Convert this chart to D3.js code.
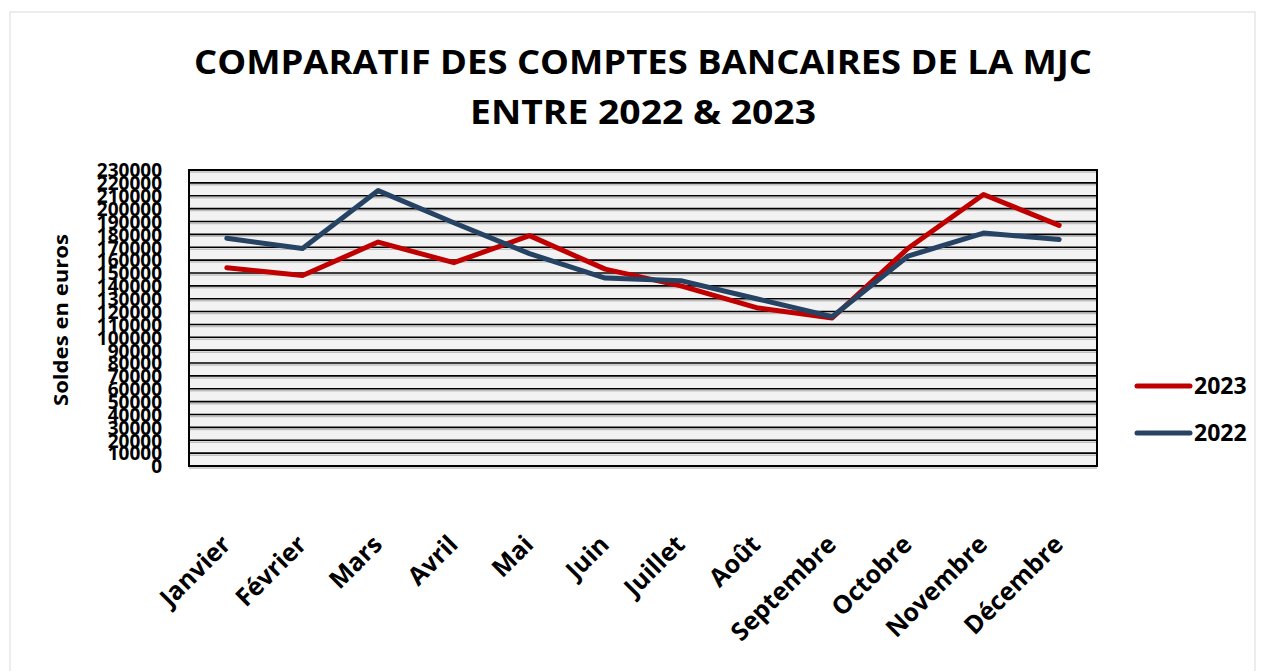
<!DOCTYPE html>
<html>
<head>
<meta charset="utf-8">
<script src="https://cdn.jsdelivr.net/npm/d3@7"></script>
<style>
  body { margin: 0; background: #fff; }
  text { font-family: "Open Sans", "DejaVu Sans", sans-serif; font-weight: bold; fill: #000; }
</style>
</head>
<body>
<svg id="chart" width="1263" height="671"></svg>
<script>
// months on the x axis
const months = ["Janvier", "Février", "Mars", "Avril", "Mai", "Juin", "Juillet", "Août", "Septembre", "Octobre", "Novembre", "Décembre"];
// balances
const soldes2023 = [154000, 148000, 174000, 158000, 179000, 153000, 140000, 123000, 115000, 169000, 211000, 187000];
const soldes2022 = [177000, 169000, 214000, 189000, 165000, 146000, 144000, 130000, 116000, 163000, 181000, 176000];
const yTicks = d3.range(0, 230001, 10000);

const series = [
    { name: "2023", values: soldes2023, color: "#c00000" },
    { name: "2022", values: soldes2022, color: "#264364" }
];

const svg = d3.select("svg#chart");
const margin = { top: 170, right: 166, bottom: 205, left: 189 };
const width = 1263 - margin.left - margin.right;
const height = 671 - margin.top - margin.bottom;

// outer frame
svg.append("rect")
    .attr("x", 10).attr("y", 12)
    .attr("width", 1245).attr("height", 670)
    .attr("fill", "none")
    .attr("stroke", "#d9d9d9");

// title
const title = svg.append("text")
    .attr("text-anchor", "middle")
    .style("font-size", "34px");
title.append("tspan").attr("x", 643).attr("y", 74)
    .attr("textLength", 898).attr("lengthAdjust", "spacingAndGlyphs")
    .text("COMPARATIF DES COMPTES BANCAIRES DE LA MJC");
title.append("tspan").attr("x", 643).attr("y", 124)
    .attr("textLength", 346).attr("lengthAdjust", "spacingAndGlyphs")
    .text("ENTRE 2022 & 2023");

const g = svg.append("g").attr("transform", `translate(${margin.left},${margin.top})`);

const x = d3.scalePoint().domain(months).range([0, width]).padding(0.5);
const y = d3.scaleLinear().domain([0, 230000]).range([height, 0]);

g.append("rect")
    .attr("width", width).attr("height", height)
    .attr("fill", "#f2f2f2");

// gridlines (black with grey shadow)
g.selectAll(".gridShadow")
    .data(yTicks)
    .join("line")
    .attr("class", "gridShadow")
    .attr("x1", 0).attr("x2", width)
    .attr("y1", d => y(d) + 2).attr("y2", d => y(d) + 2)
    .style("stroke", "#bfbfbf")
    .style("stroke-width", 1.5);
g.selectAll(".grid")
    .data(yTicks)
    .join("line")
    .attr("class", "grid")
    .attr("x1", 0).attr("x2", width)
    .attr("y1", d => y(d)).attr("y2", d => y(d))
    .style("stroke", "#000")
    .style("stroke-width", 1.6);

g.append("rect")
    .attr("width", width).attr("height", height)
    .attr("fill", "none")
    .attr("stroke", "#000")
    .attr("stroke-width", 2);

// y axis labels
const yAxis = d3.axisLeft(y).tickValues(yTicks).tickSize(0).tickPadding(27).tickFormat(d3.format("d"));
g.append("g")
    .call(yAxis)
    .call(a => a.select(".domain").remove())
    .selectAll("text")
    .style("font-size", "19px")
    .attr("dy", "0.36em");

svg.append("text")
    .attr("transform", "translate(68,320) rotate(-90)")
    .attr("text-anchor", "middle")
    .attr("textLength", 172).attr("lengthAdjust", "spacingAndGlyphs")
    .style("font-size", "20px")
    .text("Soldes en euros");

// x axis labels
const xAxis = d3.axisBottom(x).tickSize(0).tickPadding(0);
g.append("g")
    .attr("transform", `translate(0,${height})`)
    .call(xAxis)
    .call(a => a.select(".domain").remove())
    .selectAll("text")
    .style("font-size", "25px")
    .attr("text-anchor", "end")
    .attr("dy", 0)
    .attr("transform", "translate(5,80) rotate(-45)");

// lines
const line = d3.line()
    .x((d, i) => x(months[i]))
    .y(d => y(d));

g.selectAll(".serie")
    .data(series)
    .join("path")
    .attr("class", "serie")
    .attr("d", d => line(d.values))
    .attr("fill", "none")
    .attr("stroke", d => d.color)
    .attr("stroke-width", 5)
    .attr("stroke-linejoin", "round")
    .attr("stroke-linecap", "round");

// legend
const legend = svg.selectAll(".legend")
    .data(series)
    .join("g")
    .attr("class", "legend")
    .attr("transform", (d, i) => `translate(1137,${386 + i * 47})`);
legend.append("line")
    .attr("x1", 0).attr("x2", 53)
    .attr("stroke", d => d.color)
    .attr("stroke-width", 5)
    .attr("stroke-linecap", "round");
legend.append("text")
    .attr("x", 57).attr("dy", "0.36em")
    .style("font-size", "23px")
    .text(d => d.name);
</script>
</body>
</html>
